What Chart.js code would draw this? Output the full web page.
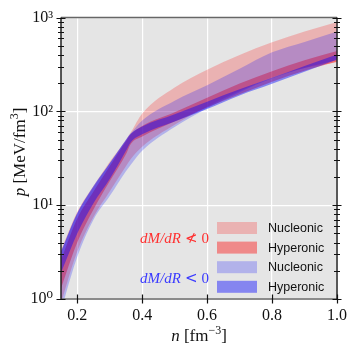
<!DOCTYPE html>
<html>
<head>
<meta charset="utf-8">
<script src="https://cdn.jsdelivr.net/npm/chart.js@4.4.3/dist/chart.umd.min.js"></script>
<style>
  html, body { margin: 0; padding: 0; background: #fff; }
  #wrap { width: 355px; height: 355px; position: relative; }
</style>
</head>
<body>
<div id="wrap"><canvas id="eos" width="355" height="355"></canvas></div>
<script>
// baryon density n [fm^-3]
const density = [0.15, 0.2, 0.25, 0.3, 0.35, 0.365, 0.4, 0.5, 0.6, 0.7, 0.8, 0.9, 1.0];

// dM/dR not < 0 (red)
const redNucleonicLow = [0.9, 3.2, 7.5, 14, 26, 31, 42, 72, 112, 165, 230, 290, 335];
const redNucleonicHigh = [3.3, 8.5, 16, 29, 50, 60, 95, 180, 278, 400, 545, 710, 900];
const redHyperonicLow = [1.3, 4.0, 9, 18, 35, 45, 54, 78, 110, 152, 207, 272, 340];
const redHyperonicHigh = [2.6, 7.2, 14, 26, 48, 57, 70, 98, 140, 198, 268, 350, 440];

// dM/dR < 0 (blue)
const blueNucleonicLow = [0.75, 2.8, 7, 12.5, 23, 27, 38, 68, 108, 160, 225, 290, 350];
const blueNucleonicHigh = [3.2, 8.2, 15.5, 28, 49, 58, 80, 130, 190, 285, 426, 550, 711];
const blueHyperonicLow = [1.9, 5.0, 10.5, 19, 38, 47, 57, 78, 106, 148, 197, 265, 358];
const blueHyperonicHigh = [3.2, 8.2, 16, 28, 50, 58, 69, 93, 127, 172, 228, 305, 405];

const xTicks = [0.2, 0.4, 0.6, 0.8, 1.0];
const yTickValues = [1, 2, 3, 4, 5, 6, 7, 8, 9, 10, 20, 30, 40, 50, 60, 70, 80, 90,
  100, 200, 300, 400, 500, 600, 700, 800, 900, 1000];
const yTickLabels = { 1: '10\u2070', 10: '10\u00b9', 100: '10\u00b2', 1000: '10\u00b3' };

const legendLabels = ['Nucleonic', 'Hyperonic', 'Nucleonic', 'Hyperonic'];

const RED_NUC = 'rgba(255, 0, 0, 0.22)';
const RED_HYP = 'rgba(255, 0, 0, 0.40)';
const BLUE_NUC = 'rgba(0, 0, 255, 0.22)';
const BLUE_HYP = 'rgba(0, 0, 255, 0.42)';

const SERIF = '"Liberation Serif", "DejaVu Serif", serif';
const SANS = '"Liberation Sans", "DejaVu Sans", sans-serif';

function pts(ys) {
  return density.map((x, i) => ({ x, y: ys[i] }));
}

function band(label, low, high, color) {
  const base = {
    pointRadius: 0,
    borderWidth: 0,
    borderColor: 'transparent',
    cubicInterpolationMode: 'monotone',
  };
  return [
    { ...base, label: label + ' low', data: pts(low), fill: false, backgroundColor: 'transparent' },
    { ...base, label: label, data: pts(high), fill: '-1', backgroundColor: color },
  ];
}

// the first pair in the list is painted last (on top)
const datasets = [
  ...band('blue hyperonic', blueHyperonicLow, blueHyperonicHigh, BLUE_HYP),
  ...band('blue nucleonic', blueNucleonicLow, blueNucleonicHigh, BLUE_NUC),
  ...band('red hyperonic', redHyperonicLow, redHyperonicHigh, RED_HYP),
  ...band('red nucleonic', redNucleonicLow, redNucleonicHigh, RED_NUC),
];

function isDecade(v) {
  const l = Math.log10(v);
  return Math.abs(l - Math.round(l)) < 1e-9;
}

// draw a run of text pieces, each with its own font and baseline shift
function drawParts(ctx, parts, x0, baseline, align, color) {
  let total = 0;
  parts.forEach((p) => {
    ctx.font = p.f;
    p.w = ctx.measureText(p.t).width + (p.gap || 0) * 2;
    total += p.w;
  });
  let x = align === 'center' ? x0 - total / 2 : align === 'right' ? x0 - total : x0;
  ctx.textAlign = 'left';
  ctx.textBaseline = 'alphabetic';
  ctx.fillStyle = color;
  parts.forEach((p) => {
    ctx.font = p.f;
    ctx.fillText(p.t, x + (p.gap || 0), baseline + (p.dy || 0));
    x += p.w;
  });
}

const decor = {
  id: 'decor',
  beforeDraw(chart) {
    const { ctx, chartArea: a } = chart;
    ctx.save();
    ctx.fillStyle = '#e5e5e5';
    ctx.fillRect(a.left, a.top, a.right - a.left, a.bottom - a.top);
    ctx.restore();
  },
  afterDraw(chart) {
    const { ctx, chartArea: a } = chart;
    const xs = chart.scales.x;
    const ys = chart.scales.y;
    ctx.save();

    // spines
    ctx.lineWidth = 1.5;
    ctx.strokeStyle = '#666';
    ctx.beginPath();
    ctx.moveTo(a.left, a.top); ctx.lineTo(a.right, a.top);
    ctx.moveTo(a.left, a.bottom); ctx.lineTo(a.right, a.bottom);
    ctx.stroke();
    ctx.strokeStyle = '#222';
    ctx.beginPath();
    ctx.moveTo(a.left, a.top); ctx.lineTo(a.left, a.bottom);
    ctx.moveTo(a.right, a.top); ctx.lineTo(a.right, a.bottom);
    ctx.stroke();

    // ticks crossing the spines
    ctx.strokeStyle = '#111';
    ctx.lineWidth = 1.2;
    ctx.beginPath();
    ys.ticks.forEach((t) => {
      const y = Math.round(ys.getPixelForValue(t.value)) + 0.5;
      const len = isDecade(t.value) ? 4.5 : 3;
      [a.left, a.right].forEach((x0) => {
        ctx.moveTo(x0 - len, y); ctx.lineTo(x0 + len, y);
      });
    });
    xs.ticks.forEach((t) => {
      const x = Math.round(xs.getPixelForValue(t.value)) + 0.5;
      ctx.moveTo(x, a.bottom - 4.5); ctx.lineTo(x, a.bottom + 4.5);
    });
    ctx.stroke();

    // annotations
    const mi = 'italic 15px ' + SERIF;
    const rm = '15px ' + SERIF;
    const rel = '15px "DejaVu Sans", sans-serif';
    drawParts(ctx, [
      { t: 'dM/dR', f: mi },
      { t: '\u226e', f: rel, gap: 4 },
      { t: '0', f: rm },
    ], 209, 243, 'right', '#ff3030');
    drawParts(ctx, [
      { t: 'dM/dR', f: mi },
      { t: '<', f: rel, gap: 4 },
      { t: '0', f: rm },
    ], 209, 283, 'right', '#3a3aff');

    // legend
    const swatches = [RED_NUC, RED_HYP, BLUE_NUC, BLUE_HYP];
    ctx.font = '12.5px ' + SANS;
    ctx.textAlign = 'left';
    ctx.textBaseline = 'middle';
    swatches.forEach((c, i) => {
      const yc = 228 + i * 19.6;
      ctx.fillStyle = c;
      ctx.fillRect(217, yc - 6, 40, 12);
      ctx.fillStyle = '#111';
      ctx.fillText(legendLabels[i], 268, yc + 0.5);
    });

    // axis titles
    const big = '17px ' + SERIF;
    const ital = 'italic 17px ' + SERIF;
    const small = '12px ' + SERIF;
    drawParts(ctx, [
      { t: 'n', f: ital },
      { t: ' [fm', f: big },
      { t: '\u22123', f: small, dy: -7 },
      { t: ']', f: big },
    ], (a.left + a.right) / 2, 341, 'center', '#111');

    ctx.save();
    ctx.translate(25, 152);
    ctx.rotate(-Math.PI / 2);
    drawParts(ctx, [
      { t: 'p', f: ital },
      { t: ' [MeV/fm', f: big },
      { t: '3', f: small, dy: -7 },
      { t: ']', f: big },
    ], 0, 0, 'center', '#111');
    ctx.restore();

    ctx.restore();
  },
};

new Chart(document.getElementById('eos'), {
  type: 'line',
  data: { datasets },
  plugins: [decor],
  options: {
    responsive: false,
    animation: false,
    events: [],
    layout: { padding: { left: 0, right: 18, top: 15, bottom: 0 } },
    plugins: { legend: { display: false }, tooltip: { enabled: false } },
    scales: {
      x: {
        type: 'linear',
        min: 0.15,
        max: 1.0,
        afterFit: (s) => { s.height = 56; },
        afterBuildTicks: (s) => { s.ticks = xTicks.map((v) => ({ value: v })); },
        border: { display: false },
        grid: { color: '#ffffff', lineWidth: 1.2, drawTicks: false },
        ticks: {
          padding: 7,
          color: '#111',
          font: { family: SERIF, size: 16 },
          callback: (v) => Number(v).toFixed(1),
        },
      },
      y: {
        type: 'logarithmic',
        min: 1,
        max: 1000,
        afterFit: (s) => { s.width = 61; },
        afterBuildTicks: (s) => { s.ticks = yTickValues.map((v) => ({ value: v })); },
        border: { display: false },
        grid: {
          drawTicks: false,
          lineWidth: 1.2,
          color: (c) => (c.tick && isDecade(c.tick.value) ? '#ffffff' : 'rgba(0,0,0,0)'),
        },
        ticks: {
          autoSkip: false,
          padding: 8,
          color: '#111',
          font: { family: SERIF, size: 16 },
          callback: (v) => yTickLabels[v] || '',
        },
      },
    },
  },
});
</script>
</body>
</html>
